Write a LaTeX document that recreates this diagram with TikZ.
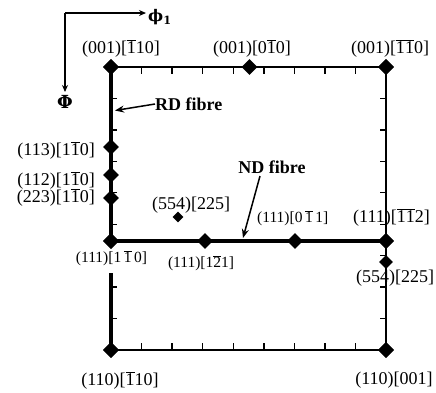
\documentclass[tikz,border=0pt]{standalone}
\usepackage{fontspec}
\setmainfont{Liberation Serif}
\newfontfamily\gk{DejaVu Serif}
\usetikzlibrary{shapes.geometric,arrows.meta}
\newcommand{\ob}[1]{\ensuremath{\overline{\mbox{#1}}}}
\begin{document}
\begin{tikzpicture}[x=1pt,y=-1pt,
  dia/.style={diamond,fill=black,inner sep=0pt,minimum width=16pt,minimum height=16pt},
  sdia/.style={dia,minimum width=11pt,minimum height=11pt},
  lab/.style={font=\fontsize{18}{20}\selectfont,inner sep=0pt},
  slab/.style={font=\fontsize{15.5}{18}\selectfont,inner sep=0pt},
  blab/.style={font=\fontsize{18}{20}\selectfont\bfseries,inner sep=0pt},
  thinedge/.style={line width=2pt},
  thickedge/.style={line width=3.8pt},
  ndedge/.style={line width=3.2pt},
  tickmark/.style={line width=1.4pt},
  pointer/.style={line width=1.5pt,-{Stealth[length=9pt,width=7pt]}},
  axis/.style={line width=1.5pt,-{Stealth[length=7pt,width=6pt]}}]
\useasboundingbox (0,0) rectangle (436,392);
% corners and junctions
\node[dia] (tl) at (111,67) {};
\node[dia] (tr) at (386,67) {};
\node[dia] (bl) at (111,350) {};
\node[dia] (br) at (386,350) {};
\node[dia] (jl) at (111,241) {};
\node[dia] (jr) at (386,241) {};
\coordinate (gap) at (111,273);
% frame
\draw[thinedge] (tl.center) -- (tr.center);
\draw[thinedge] (bl.center) -- (br.center);
\draw[thinedge] (tr.center) -- (br.center);
\draw[thickedge] (tl.center) -- (jl.center);
\draw[thickedge] (gap) -- (bl.center);
\draw[ndedge] (jl.center) -- (jr.center);
% ticks
\foreach \k in {1,...,8} {
  \draw[tickmark] ({111+30.56*\k},67) -- ++(0,7);
  \draw[tickmark] ({111+30.56*\k},350) -- ++(0,-7);
  \draw[tickmark] (386,{67+31.44*\k}) -- ++(-6,0);
}
\foreach \k in {1,2,3,4,5,7,8} {
  \draw[tickmark] (111,{67+31.44*\k}) -- ++(6,0);
}
% redraw corner diamonds on top
\node[dia] at (tl) {};
\node[dia] at (tr) {};
\node[dia] at (bl) {};
\node[dia] at (br) {};
\node[dia] at (jl) {};
\node[dia] at (jr) {};
% other diamonds
\node[dia] (d010) at (249.5,67) {};
\node[dia] (d113) at (111,147) {};
\node[dia] (d112) at (111,175) {};
\node[dia] (d223) at (111,198) {};
\node[sdia] (din) at (178,217) {};
\node[dia] (d121) at (205,241) {};
\node[dia] (d011) at (295,241) {};
\node[dia,minimum width=14pt,minimum height=14pt] (d554) at (386,262) {};
% labels
\node[lab] (l1) at (121,48) {(001)[\ob{1}10]};
\node[lab] (l2) at (252,48) {(001)[0\ob{1}0]};
\node[lab] (l3) at (390,48) {(001)[\ob{1}\ob{1}0]};
\node[lab,anchor=east] (l4) at (95,150) {(113)[1\ob{1}0]};
\node[lab,anchor=east] (l5) at (95,180) {(112)[1\ob{1}0]};
\node[lab,anchor=east] (l6) at (95,197) {(223)[1\ob{1}0]};
\node[lab,anchor=west] (l7) at (152,205) {(554)[225]};
\node[slab,anchor=west] (l8) at (257,218) {(111)[0\,\ob{1}\,1]};
\node[lab,anchor=west] (l9) at (353,217) {(111)[\ob{1}\ob{1}2]};
\node[slab] (l10) at (111.5,258) {(111)[1\,\ob{1}\,0]};
\node[slab] (l11) at (201,263) {(111)[1\ob{2}1]};
\node[lab,anchor=west] (l12) at (356,278) {(554)[225]};
\node[lab] (l13) at (120,380) {(110)[\ob{1}10]};
\node[lab] (l14) at (394,380) {(110)[001]};
% fibre labels
\node[blab,anchor=west] (rd) at (155,104) {RD fibre};
\coordinate (rdtip) at (115,110.5);
\draw[pointer] (rd.west) -- (rdtip);
\node[blab] (nd) at (272,167) {ND fibre};
\coordinate (ndtip) at (243,238);
\draw[pointer] (260,176) -- (ndtip);
% axes
\coordinate (o) at (65,13);
\node[inner sep=2pt,anchor=west] (phi1) at (146,17) {\gk\bfseries\fontsize{16}{18}\selectfont ϕ\textsubscript{1}};
\node[inner sep=1pt,anchor=north] (Phi) at (65,94) {\gk\fontsize{18}{20}\selectfont\bfseries Φ};
\draw[axis] (o) -- (146,13);
\draw[axis] (o) -- (65,92);
\end{tikzpicture}
\end{document}
